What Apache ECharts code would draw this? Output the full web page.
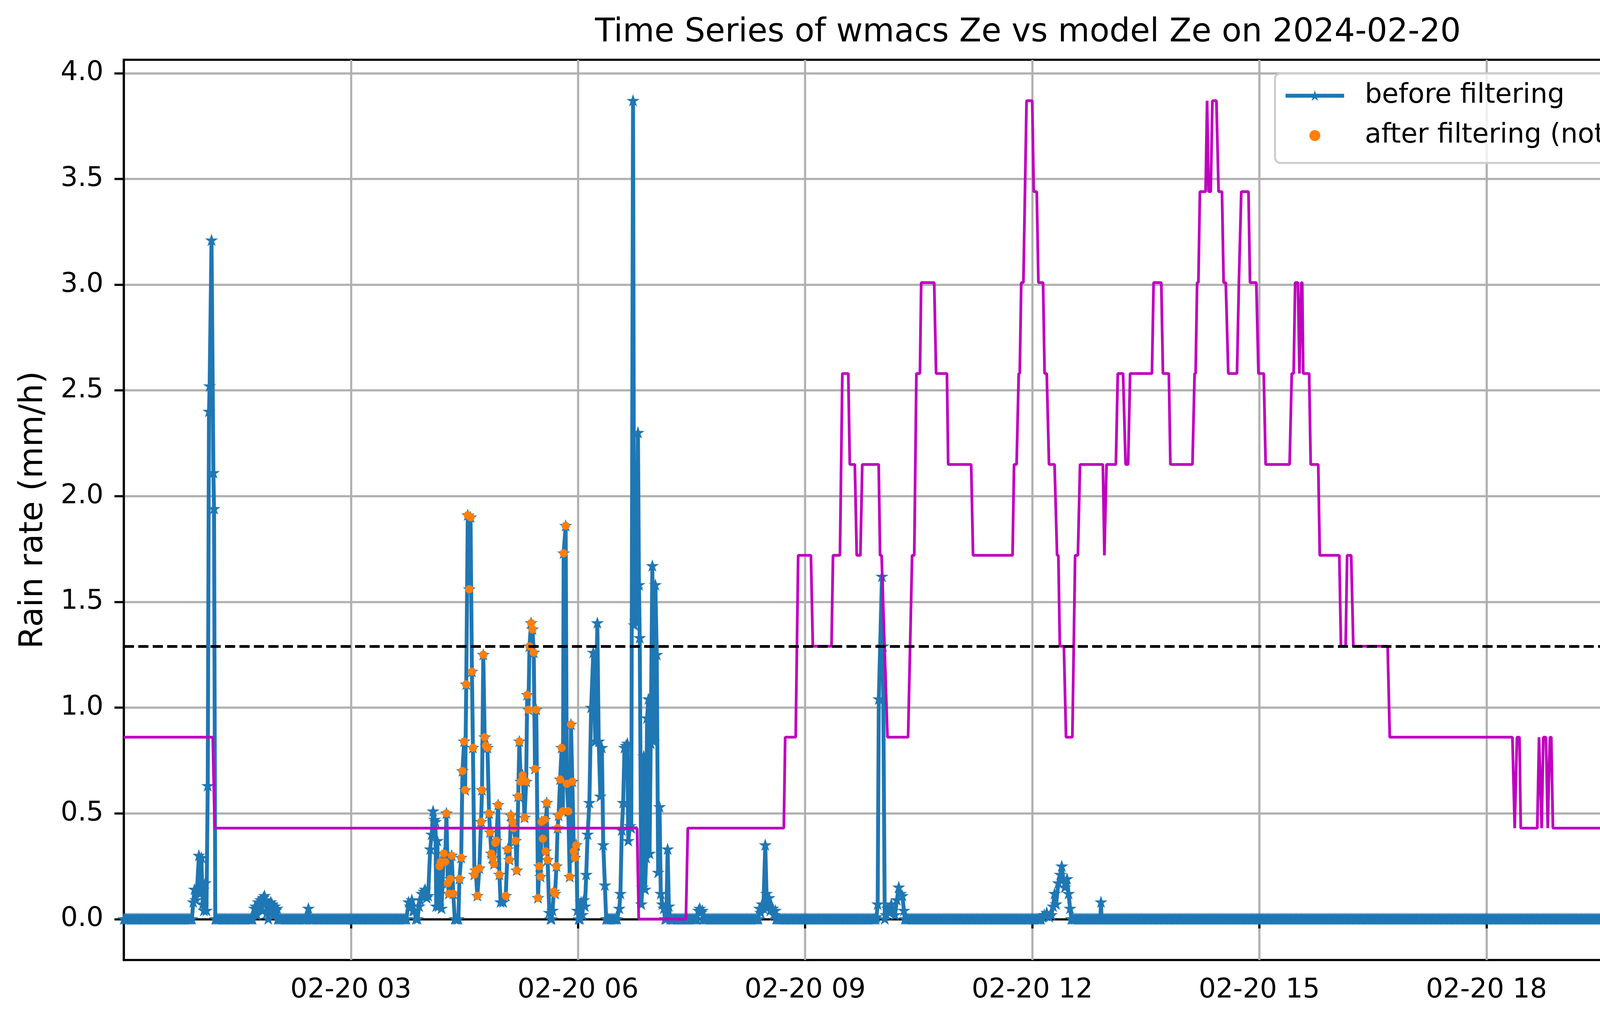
<!DOCTYPE html>
<html>
<head>
<meta charset="utf-8">
<script src="https://cdn.jsdelivr.net/npm/echarts@6/dist/echarts.min.js"></script>
<style>
html, body { margin: 0; padding: 0; background: #fff; }
#chart { width: 5263px; height: 2631px; }
</style>
</head>
<body>
<div id="chart"></div>
<script>
// tick positions
var rainTicks = [0, 0.5, 1, 1.5, 2, 2.5, 3, 3.5, 4];
var tempTicks = [2, 4, 6, 8, 10];
var hourTicks = [180, 360, 540, 720, 900, 1080, 1260]; // minutes after 02-20 00:00
var thresholdTemp = 5;

// minutes where the gauge reads 0 (one reading per minute)
var dryRanges = [[0, 54], [73, 102], [122, 145], [147, 224], [383, 391], [434, 454],
  [459, 503], [517, 596], [619, 727], [751, 774], [775, 1440]];

// [minute, rain rate mm/h], before filtering
var rainReadings = [
  [55, 0.08], [56, 0.14], [57, 0.09], [58, 0.14], [59.5, 0.30], [60.5, 0.12], [61.5, 0.29],
  [62.5, 0.07], [63.5, 0.04], [64.5, 0.17], [65.5, 0.04], [66.5, 0.63], [67.5, 2.40],
  [68, 2.52], [69.5, 3.21], [71, 2.11], [71.5, 1.94], [72.5, 0],
  [103.5, 0.05], [104.5, 0.06], [105.5, 0.02], [106.5, 0.08], [107.5, 0.06], [108.5, 0.09],
  [109.5, 0.04], [110.5, 0.10], [111.5, 0.11], [112.5, 0.09], [113.5, 0.03], [114.5, 0],
  [115.5, 0.05], [116.5, 0.08], [117.5, 0.07], [118.5, 0.02], [119.5, 0.06], [120.5, 0.04],
  [121.5, 0.05],
  [146.3, 0.05],
  [225.7, 0.08], [227, 0.06], [228.3, 0.09], [229.3, 0.04], [230.3, 0.04], [231.5, 0],
  [232.8, 0], [234, 0.06], [234.8, 0.09], [236.1, 0.12], [237.9, 0.13], [238.8, 0.14],
  [240, 0.10], [241.2, 0.11], [242.8, 0.33], [244, 0.40], [245.1, 0.51], [246.3, 0.47],
  [247, 0.46], [247.6, 0.06], [248.5, 0.37], [249.4, 0.06], [250.3, 0.25], [251.1, 0.27],
  [251.8, 0.05], [253.6, 0.31], [254.7, 0.27], [255.7, 0.50], [256.8, 0.17], [257.6, 0.12],
  [258.8, 0.19], [259.9, 0.30], [261.1, 0.12], [262.3, 0], [263.3, 0], [264.3, 0],
  [265.2, 0], [266, 0.19], [267.4, 0.29], [268.4, 0.70], [269.7, 0.84], [270.5, 0.61],
  [271.4, 1.11], [272.6, 1.91], [273.8, 1.56], [274.8, 1.90], [275.9, 1.17], [276.7, 0.81],
  [277.9, 0.21], [278.9, 0.23], [280.2, 0.11], [281.8, 0.24], [283.1, 0.46], [283.9, 0.61],
  [284.9, 1.25], [286, 0.86], [287, 0.82], [288.2, 0.81], [289.5, 0.50], [290.3, 0.41],
  [291.3, 0.31], [292.4, 0.29], [293.4, 0.26], [294.4, 0.36], [295.2, 0.37], [296.7, 0.54],
  [297.7, 0.21], [298.6, 0.08], [300.6, 0.08], [302.7, 0.11], [304.2, 0.33], [305.6, 0.28],
  [306.8, 0.49], [308, 0.46], [308.9, 0.43], [310.5, 0.37], [311.4, 0.23], [312.6, 0.58],
  [313.5, 0.84], [314.6, 0.65], [316.1, 0.68], [317.6, 0.48], [318.9, 0.65], [319.7, 1.06],
  [320.7, 0.99], [321.5, 1.29], [322.8, 1.40], [323.9, 1.37], [324.9, 1.26], [325.9, 0.71],
  [326.9, 0.99], [328.3, 0.10], [329.3, 0.25], [330.3, 0.20], [331.1, 0.46], [332.1, 0.38],
  [333.6, 0.47], [334.3, 0.32], [335.2, 0.55], [335.9, 0.28], [337.2, 0.03], [338.2, 0],
  [339, 0], [339.8, 0.04], [340.8, 0.13], [341.8, 0.12], [342.9, 0.25], [343.8, 0.43],
  [344.6, 0.49], [345.8, 0.66], [347, 0.81], [348, 0.51], [348.6, 1.73], [350.2, 1.86],
  [351.1, 0.64], [352.3, 0.51], [353.4, 0.20], [354.4, 0.92], [355.5, 0.65], [356.7, 0.32],
  [357.6, 0.29], [358.6, 0.35], [359.5, 0.04], [360.5, 0], [361.5, 0], [362.4, 0.08],
  [363.4, 0.02], [364.5, 0.09], [365.5, 0.06], [366.5, 0.21], [367.6, 0.40], [369, 0.55],
  [370.4, 1.00], [372.1, 1.26], [373.7, 0.84], [375.3, 1.40], [376.4, 0.84], [377.7, 0.58],
  [378.9, 0.81], [380, 0.35], [381.3, 0.16], [382.3, 0],
  [392.7, 0.05], [393.6, 0.12], [394.7, 0.42], [395.8, 0.55], [396.8, 0.81], [398, 0.82],
  [399.1, 0.83], [399.8, 0.37], [401.2, 0.44], [402.2, 0.43], [403.6, 3.87], [404.5, 1.39],
  [405.5, 1.41], [406.6, 1.56], [407.5, 2.30], [408.3, 1.58], [408.9, 1.33], [410.2, 0.07],
  [411, 0.15], [412.1, 0.77], [413.1, 0.14], [414, 0.29], [414.7, 0.95], [415.8, 1.04],
  [416.7, 0.31], [417.6, 0.83], [418.9, 1.67], [419.9, 0.84], [421.3, 1.58], [422.4, 1.25],
  [423.5, 0.22], [424.6, 0.53], [425.6, 0.12], [426.8, 0.07], [428, 0.05], [429, 0],
  [430, 0], [431, 0.33], [432, 0.06], [433, 0],
  [455.5, 0.04], [456.5, 0.05], [457.5, 0.03], [458.5, 0.04],
  [503.8, 0.05], [504.8, 0.03], [505.9, 0.07], [506.9, 0.05], [508.4, 0.35], [509.4, 0.12],
  [510.4, 0.06], [511.4, 0.10], [512.4, 0.04], [513.4, 0.05], [514.4, 0.05], [515.4, 0.02],
  [516.4, 0.04],
  [596.6, 0.01], [597.5, 0.07], [598.4, 1.04], [600.9, 1.62], [601.7, 1.29], [603.1, 0],
  [604.2, 0.02], [605.3, 0.05], [606.8, 0.03], [608.3, 0.07], [609.7, 0.04], [611.2, 0.02],
  [612.7, 0.09], [614.2, 0.15], [615.7, 0.12], [617.1, 0.11], [618.3, 0.04],
  [728, 0.01], [729.5, 0.02], [731.5, 0.03], [733.5, 0.01], [735.2, 0.02], [736.5, 0.06],
  [737.7, 0.12], [738.9, 0.07], [740.7, 0.17], [742.2, 0.21], [743.4, 0.25], [744.6, 0.19],
  [745.9, 0.15], [747.6, 0.19], [748.8, 0.12], [750, 0.05],
  [774.5, 0.08]
];

// [minute, rain rate] kept after filtering
var keptReadings = [
  [250.3, 0.25], [251.1, 0.27], [253.6, 0.31], [254.7, 0.27], [255.7, 0.50], [256.8, 0.17],
  [257.6, 0.12], [258.8, 0.19], [259.9, 0.30], [261.1, 0.12], [266, 0.19], [267.4, 0.29],
  [268.4, 0.70], [269.7, 0.84], [270.5, 0.61], [271.4, 1.11], [272.6, 1.91], [273.8, 1.56],
  [274.8, 1.90], [275.9, 1.17], [276.7, 0.81], [277.9, 0.21], [278.9, 0.23], [280.2, 0.11],
  [281.8, 0.24], [283.1, 0.46], [283.9, 0.61], [284.9, 1.25], [286, 0.86], [287, 0.82],
  [288.2, 0.81], [289.5, 0.50], [290.3, 0.41], [291.3, 0.31], [292.4, 0.29], [293.4, 0.26],
  [294.4, 0.36], [295.2, 0.37], [296.7, 0.54], [297.7, 0.21], [302.7, 0.11], [304.2, 0.33],
  [305.6, 0.28], [306.8, 0.49], [308, 0.46], [308.9, 0.43], [310.5, 0.37], [311.4, 0.23],
  [312.6, 0.58], [313.5, 0.84], [314.6, 0.65], [316.1, 0.68], [317.6, 0.48], [318.9, 0.65],
  [319.7, 1.06], [320.7, 0.99], [321.5, 1.29], [322.8, 1.40], [323.9, 1.37], [324.9, 1.26],
  [325.9, 0.71], [326.9, 0.99], [328.3, 0.10], [329.3, 0.25], [330.3, 0.20], [331.1, 0.46],
  [332.1, 0.38], [333.6, 0.47], [334.3, 0.32], [335.2, 0.55], [335.9, 0.28], [340.8, 0.13],
  [341.8, 0.12], [342.9, 0.25], [343.8, 0.43], [344.6, 0.49], [345.8, 0.66], [347, 0.81],
  [348, 0.51], [348.6, 1.73], [350.2, 1.86], [351.1, 0.64], [352.3, 0.51], [353.4, 0.20],
  [354.4, 0.92], [355.5, 0.65], [356.7, 0.32], [357.6, 0.29], [358.6, 0.35]
];

// temperature plateaus: [from minute, to minute, deg C]
var tempSteps = [
  [0, 70.5, 4], [72, 406.8, 3], [408.1, 445.5, 2], [447, 523.1, 3], [524.2, 532.5, 4],
  [534.5, 544.6, 6], [546.1, 560.9, 5], [562.1, 567.6, 6], [569.5, 574.2, 8], [575.4, 579.4, 7],
  [580.9, 583.8, 6], [585.3, 598.3, 7], [599.4, 600.6, 6], [605.3, 621.6, 4], [624.8, 626.5, 6],
  [628.2, 631, 8], [632, 642.3, 9], [643.8, 652.4, 8], [653.4, 671.6, 7], [673.1, 704.4, 6],
  [705.6, 707.6, 7], [709.3, 710.1, 8], [711.3, 713, 9], [715.5, 720, 11], [721.2, 723.6, 10],
  [724.9, 728.6, 9], [729.8, 731.5, 8], [733.3, 737.7, 7], [739.7, 740.7, 6], [741.9, 745.1, 5],
  [746.8, 751.8, 4], [754, 756.2, 6], [757.9, 776, 7], [777.2, 777.6, 6], [778.9, 786.3, 7],
  [787.8, 792, 8], [794, 796, 7], [797.6, 814.9, 8], [816.2, 822.3, 9], [823.6, 828.3, 8],
  [829.5, 847, 7], [848.7, 849.5, 8], [850.7, 851.7, 9], [852.9, 857.4, 10], [858.6, 858.9, 11],
  [859.8, 861.5, 10], [862.8, 866, 11], [867.7, 870.4, 10], [871.7, 873.4, 9], [875.4, 882.3, 8],
  [883.8, 884.4, 9], [885.7, 891.4, 10], [892.6, 897.6, 9], [899.3, 903.5, 8], [905, 924, 7],
  [925.7, 927.2, 8], [928.4, 930.6, 9], [931.8, 932.1, 8], [933.3, 934, 9], [934.8, 939.5, 8],
  [940.7, 946.7, 7], [947.9, 963.4, 6], [964.7, 968.4, 5], [969.6, 972.8, 6], [974.5, 1001.7, 5],
  [1003.4, 1100.6, 4], [1102.4, 1102.7, 3], [1104.2, 1106.2, 4], [1107.2, 1120.3, 3],
  [1121.7, 1122.3, 4], [1123.8, 1124.1, 3], [1125.1, 1127.2, 4], [1128.6, 1128.9, 3],
  [1130.3, 1131.4, 4], [1132.7, 1179.4, 3], [1180.8, 1440, 2]
];

// build series data
var rainData = [];
dryRanges.forEach(function (r) {
  for (var m = r[0]; m <= r[1]; m++) rainData.push([m, 0]);
});
rainReadings.forEach(function (p) { rainData.push(p); });
rainData.sort(function (a, b) { return a[0] - b[0]; });

var tempData = [];
tempSteps.forEach(function (s) {
  tempData.push([s[0], s[2]]);
  if (s[1] > s[0]) tempData.push([s[1], s[2]]);
});

var star = 'path://M0,-100 L22.45,-30.9 L95.1,-30.9 L36.3,11.8 L58.8,80.9 L0,38.2 L-58.8,80.9 L-36.3,11.8 L-95.1,-30.9 L-22.45,-30.9 Z';

var chart = echarts.init(document.getElementById('chart'), null, { renderer: 'canvas' });

var axisBlack = { color: '#000', width: 5.5 };

option = {
  animation: false,
  backgroundColor: '#fff',
  textStyle: { fontFamily: 'DejaVu Sans' },
  title: {
    text: 'Time Series of wmacs Ze vs model Ze on 2024-02-20',
    left: 'center',
    top: 38,
    textStyle: { fontSize: 83, fontWeight: 'normal', color: '#000', fontFamily: 'DejaVu Sans' }
  },
  grid: {
    left: 317, right: 295, top: 153, bottom: 174,
    show: true, borderColor: '#000', borderWidth: 5.5, backgroundColor: 'transparent'
  },
  legend: {
    orient: 'vertical',
    left: 3264, top: 188,
    padding: [19, 24, 32, 22],
    itemWidth: 150, itemHeight: 26, itemGap: 26,
    backgroundColor: 'rgba(255,255,255,0.8)',
    borderColor: '#cccccc', borderWidth: 5, borderRadius: 14,
    textStyle: { fontSize: 69, color: '#000', lineHeight: 76, padding: [0, 0, 0, 48] },
    data: [
      { name: 'before filtering', lineStyle: { color: '#1f77b4', width: 10 } },
      { name: 'after filtering (not enough rain duration)', icon: 'circle' }
    ]
  },
  xAxis: {
    type: 'value', min: 0, max: 1440,
    axisLine: { lineStyle: axisBlack },
    axisTick: { show: true, length: 24, lineStyle: axisBlack, customValues: hourTicks },
    axisLabel: {
      fontSize: 69, color: '#000', margin: 44, customValues: hourTicks,
      formatter: function (v) { return '02-20 ' + String(Math.round(v / 60)).padStart(2, '0'); }
    },
    splitLine: { show: true, lineStyle: { color: '#b0b0b0', width: 5.5 } }
  },
  yAxis: [
    {
      type: 'value', min: -0.1935, max: 4.0635,
      name: 'Rain rate (mm/h)', nameLocation: 'middle', nameGap: 189, nameRotate: 90,
      nameTextStyle: { fontSize: 83, color: '#000' },
      axisLine: { show: true, lineStyle: axisBlack },
      axisTick: { show: true, length: 24, lineStyle: axisBlack, customValues: rainTicks },
      axisLabel: {
        fontSize: 69, color: '#000', margin: 52, customValues: rainTicks,
        formatter: function (v) { return v.toFixed(1); }
      },
      splitLine: { show: true, lineStyle: { color: '#b0b0b0', width: 5.5 } }
    },
    {
      type: 'value', min: 1.55, max: 11.45, position: 'right', z: 10,
      name: 'Temperature (° C)', nameLocation: 'middle', nameGap: 136, nameRotate: 90,
      nameTextStyle: { fontSize: 83, color: '#000' },
      axisLine: { show: true, lineStyle: { color: '#bf00bf', width: 6 } },
      axisTick: { show: true, length: 24, lineStyle: axisBlack, customValues: tempTicks },
      axisLabel: { fontSize: 69, color: '#000', margin: 56, customValues: tempTicks },
      splitLine: { show: false }
    }
  ],
  series: [
    {
      name: 'before filtering',
      type: 'line',
      data: rainData,
      yAxisIndex: 0,
      z: 2,
      symbol: star,
      symbolSize: [15, 14],
      showAllSymbol: true,
      lineStyle: { color: '#1f77b4', width: 10 },
      itemStyle: { color: '#1f77b4', borderColor: '#1f77b4', borderWidth: 6 }
    },
    {
      name: 'after filtering (not enough rain duration)',
      type: 'scatter',
      data: keptReadings,
      yAxisIndex: 0,
      z: 3,
      symbol: 'circle',
      symbolSize: 15,
      itemStyle: { color: '#ff7f0e', borderColor: '#ff7f0e', borderWidth: 6, opacity: 1 }
    },
    {
      name: 'Temperature',
      type: 'line',
      data: tempData,
      yAxisIndex: 1,
      z: 4,
      symbol: 'none',
      lineStyle: { color: '#bf00bf', width: 7 },
      itemStyle: { color: '#bf00bf' },
      markLine: {
        silent: true,
        symbol: 'none',
        label: { show: false },
        lineStyle: { color: '#000', width: 7, type: [26, 11] },
        data: [{ yAxis: thresholdTemp }]
      }
    }
  ]
};

chart.setOption(option);
</script>
</body>
</html>
